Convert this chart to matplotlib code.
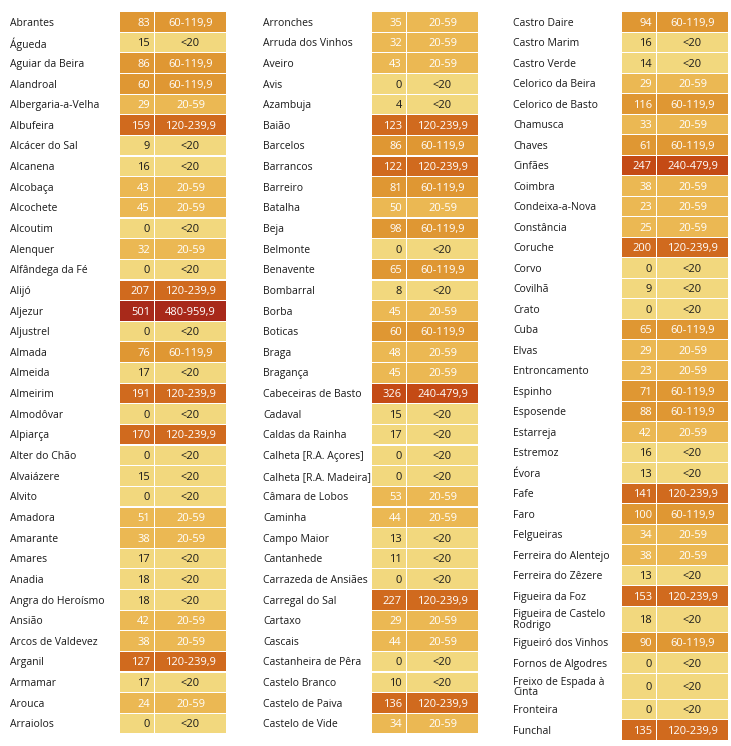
import matplotlib
matplotlib.use("Agg")
import matplotlib.pyplot as plt

# ---- data ----
col1_names = ["Abrantes", "Águeda", "Aguiar da Beira", "Alandroal", "Albergaria-a-Velha",
              "Albufeira", "Alcácer do Sal", "Alcanena", "Alcobaça", "Alcochete", "Alcoutim",
              "Alenquer", "Alfândega da Fé", "Alijó", "Aljezur", "Aljustrel", "Almada",
              "Almeida", "Almeirim", "Almodôvar", "Alpiarça", "Alter do Chão", "Alvaiázere",
              "Alvito", "Amadora", "Amarante", "Amares", "Anadia", "Angra do Heroísmo",
              "Ansião", "Arcos de Valdevez", "Arganil", "Armamar", "Arouca", "Arraiolos"]
col1_values = [83, 15, 86, 60, 29, 159, 9, 16, 43, 45, 0, 32, 0, 207, 501, 0, 76, 17, 191, 0,
               170, 0, 15, 0, 51, 38, 17, 18, 18, 42, 38, 127, 17, 24, 0]

col2_names = ["Arronches", "Arruda dos Vinhos", "Aveiro", "Avis", "Azambuja", "Baião",
              "Barcelos", "Barrancos", "Barreiro", "Batalha", "Beja", "Belmonte", "Benavente",
              "Bombarral", "Borba", "Boticas", "Braga", "Bragança", "Cabeceiras de Basto",
              "Cadaval", "Caldas da Rainha", "Calheta [R.A. Açores]", "Calheta [R.A. Madeira]",
              "Câmara de Lobos", "Caminha", "Campo Maior", "Cantanhede", "Carrazeda de Ansiães",
              "Carregal do Sal", "Cartaxo", "Cascais", "Castanheira de Pêra", "Castelo Branco",
              "Castelo de Paiva", "Castelo de Vide"]
col2_values = [35, 32, 43, 0, 4, 123, 86, 122, 81, 50, 98, 0, 65, 8, 45, 60, 48, 45, 326,
               15, 17, 0, 0, 53, 44, 13, 11, 0, 227, 29, 44, 0, 10, 136, 34]

col3_names = ["Castro Daire", "Castro Marim", "Castro Verde", "Celorico da Beira",
              "Celorico de Basto", "Chamusca", "Chaves", "Cinfães", "Coimbra", "Condeixa-a-Nova",
              "Constância", "Coruche", "Corvo", "Covilhã", "Crato", "Cuba", "Elvas",
              "Entroncamento", "Espinho", "Esposende", "Estarreja", "Estremoz", "Évora", "Fafe",
              "Faro", "Felgueiras", "Ferreira do Alentejo", "Ferreira do Zêzere",
              "Figueira da Foz", "Figueira de Castelo\nRodrigo", "Figueiró dos Vinhos",
              "Fornos de Algodres", "Freixo de Espada à\nCinta", "Fronteira", "Funchal"]
col3_values = [94, 16, 14, 29, 116, 33, 61, 247, 38, 23, 25, 200, 0, 9, 0, 65, 29, 23, 71, 88,
               42, 16, 13, 141, 100, 34, 38, 13, 153, 18, 90, 0, 0, 0, 135]

bin_labels = ["<20", "20-59", "60-119,9", "120-239,9", "240-479,9", "480-959,9"]
bin_upper = [20, 60, 120, 240, 480, 960]
bin_colors = ["#F2D87E", "#EBB853", "#DF9733", "#D06A1E", "#C44A15", "#A8291A"]

# ---- figure ----
W, H = 731, 746
fig = plt.figure(figsize=(W / 100, H / 100), dpi=100)
ax = fig.add_axes([0, 0, 1, 1])
ax.set_xlim(0, W)
ax.set_ylim(H, 0)
ax.axis("off")

FONT = ["Open Sans", "DejaVu Sans"]
FS = 7.5
TXT_DY = 1.2

def bin_index(v):
    for i, u in enumerate(bin_upper):
        if v < u:
            return i
    return len(bin_upper) - 1

# (names, values, label x, cell x, row height)
columns = [
    (col1_names, col1_values, 10, 120, 20.64),
    (col2_names, col2_values, 263, 372, 20.64),
    (col3_names, col3_values, 513, 622, 20.5),
]
VAL_W = 33.5
RNG_W = 71.5
GAP = 1.2
TALL_H = 26.0
TOP = 11.6

for names, values, lx, cx, row_h in columns:
    heights = [TALL_H if "\n" in n else row_h for n in names]
    tops = []
    t = TOP
    for h in heights:
        tops.append(t)
        t += h
    centers = [tp + h / 2 for tp, h in zip(tops, heights)]
    idx = [bin_index(v) for v in values]
    cols = [bin_colors[i] for i in idx]
    ax.barh(centers, [VAL_W] * len(values), left=cx, height=[h - GAP for h in heights],
            color=cols, edgecolor="none")
    ax.barh(centers, [RNG_W] * len(values), left=cx + VAL_W + GAP,
            height=[h - GAP for h in heights], color=cols, edgecolor="none")
    for n, v, i, yc in zip(names, values, idx, centers):
        tc = "#1a1a1a" if i == 0 else "#ffffff"
        ty = yc + TXT_DY
        ax.text(lx, ty, n, ha="left", va="center", fontsize=FS, family=FONT,
                color="#1a1a1a", linespacing=0.95)
        ax.text(cx + VAL_W - 3.5, ty, str(v), ha="right", va="center", fontsize=8.0,
                family=FONT, color=tc)
        ax.text(cx + VAL_W + GAP + RNG_W / 2, ty, bin_labels[i], ha="center", va="center",
                fontsize=8.0, family=FONT, color=tc)

fig.savefig("out.png", dpi=100)
